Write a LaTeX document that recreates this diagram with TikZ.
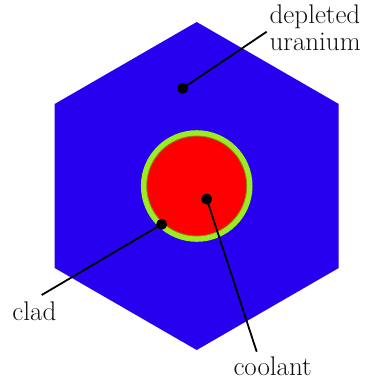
\documentclass[tikz,border=0pt]{standalone}
\usetikzlibrary{positioning,calc}
\definecolor{fuelblue}{HTML}{2800F0}
\definecolor{cladgreen}{HTML}{9CEC22}
\definecolor{cladedge}{HTML}{8C8A12}
\definecolor{coolred}{HTML}{FF0000}
\definecolor{ink}{HTML}{111111}
\tikzset{
  dot/.style={circle, fill=black, inner sep=0pt, minimum size=11pt},
  lead/.style={line width=1.8pt, color=black},
  lab/.style={inner sep=0pt, text=ink, align=left},
}

\begin{document}
\begin{tikzpicture}[x=1pt, y=-1pt, font=\fontsize{27pt}{27pt}\selectfont]
    \useasboundingbox (0,0) rectangle (366,381);
    \coordinate (o) at (196.7,186);
    % hexagonal cell, clad and coolant channel
    \fill[fuelblue, shift={(o)}] (90:164) -- (150:164) -- (210:164) -- (270:164) -- (330:164) -- (390:164) -- cycle;
    \fill[cladgreen] (o) circle (55.8);
    \fill[coolred, draw=cladedge, line width=0.8pt] (o) circle (50);
    % markers
    \node[dot] (du) at (182.7,88.3) {};
    \node[dot] (cl) at (161.7,224.3) {};
    \node[dot] (co) at (206.7,199) {};
    % labels
    \node[lab, anchor=base west] (dutext) at (269.5,50) {depleted\\uranium};
    \node[lab, anchor=base west] (cltext) at (12.3,320.5) {clad};
    \node[lab, anchor=base west] (cotext) at (233.3,375) {coolant};
    \coordinate (duend) at (266.7,31.7);
    \coordinate (clend) at (41.7,295);
    \coordinate (coend) at (256.7,351.7);
    \foreach \i in {du,cl,co} \draw[lead] (\i.center) -- (\i end);
\end{tikzpicture}
\end{document}
